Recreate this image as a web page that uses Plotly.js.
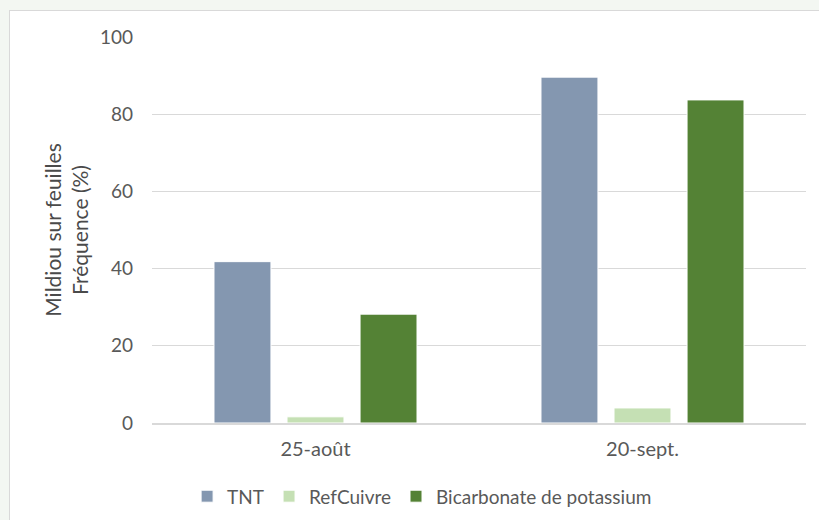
<!DOCTYPE html>
<html><head><meta charset="utf-8">
<script src="https://cdn.plot.ly/plotly-3.0.1.min.js"></script>
<style>
html,body{margin:0;padding:0;background:#f3f7f2;overflow:hidden;width:819px;height:520px;}
#frame{position:absolute;left:9px;top:10px;width:830px;height:530px;background:#fff;border:1px solid #d9d9d9;box-sizing:border-box;}
#chart{position:absolute;left:1px;top:1px;width:828px;height:528px;}
</style></head>
<body>
<div id="frame"><div id="chart"></div></div>
<script>
const categories = ['25-août', '20-sept.'];
const seriesNames = ['TNT', 'RefCuivre', 'Bicarbonate de potassium'];
const tnt = [41.8, 89.6];
const refCuivre = [1.6, 3.9];
const bicarbonate = [28.2, 83.7];
const yTicks = [0, 20, 40, 60, 80, 100];
const colors = ['#8497b0', '#c5e0b4', '#548235'];

const values = [tnt, refCuivre, bicarbonate];
const traces = seriesNames.map((n, i) => ({
  type: 'bar', name: n, x: categories, y: values[i],
  marker: {color: colors[i], line: {color: '#ffffff', width: 1}},
  hoverinfo: 'x+y+name'
}));

const fam = 'Lato, "Open Sans", sans-serif';
const font = {family: fam, size: 19, color: '#595959'};
Plotly.newPlot('chart', traces, {
  width: 828, height: 528,
  margin: {l: 141, r: 33, t: 25, b: 117},
  paper_bgcolor: '#ffffff', plot_bgcolor: '#ffffff',
  font: font,
  barmode: 'group', bargap: 0.33, bargroupgap: 0.22,
  showlegend: true,
  legend: {orientation: 'h', x: 0.413, xanchor: 'center', y: -0.19, yanchor: 'middle',
    font: {family: fam, size: 19, color: '#595959'}, itemwidth: 30, traceorder: 'normal'},
  xaxis: {showgrid: false, showline: true, linecolor: '#d9d9d9', linewidth: 1.5,
    ticks: '', tickfont: {family: fam, size: 20, color: '#595959'}, ticklabelstandoff: 7, fixedrange: true},
  yaxis: {range: [0, 100], tickvals: yTicks, ticktext: yTicks.map(String),
    showgrid: true, gridcolor: '#d9d9d9', gridwidth: 1, zeroline: false, showline: false,
    ticks: '', tickfont: font, ticklabelstandoff: 18,
    title: {text: 'Mildiou sur feuilles<br>Fréquence (%)', font: {family: fam, size: 21, color: '#4a4a4a'}, standoff: 5},
    fixedrange: true}
}, {displayModeBar: false, staticPlot: true});
</script>
</body></html>
